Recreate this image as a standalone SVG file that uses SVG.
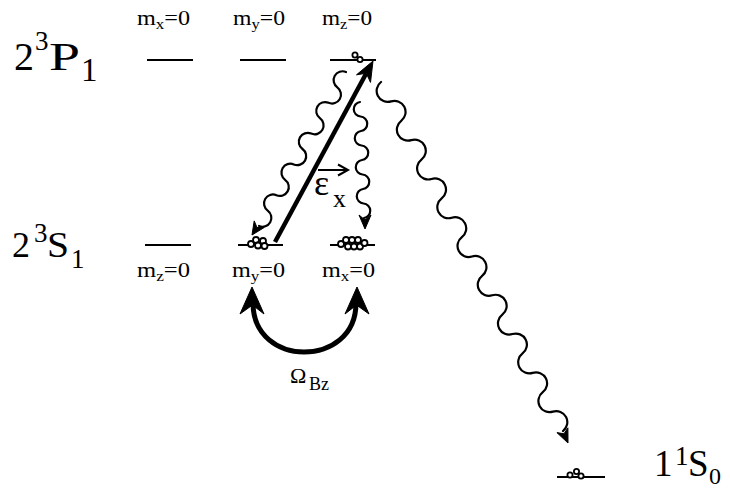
<svg xmlns="http://www.w3.org/2000/svg" width="730" height="490" viewBox="0 0 730 490">
<style>
text{font-family:"Liberation Serif","DejaVu Serif",serif;fill:#000}
.lvl{stroke:#000;stroke-width:2;fill:none}
.dot{stroke:#000;stroke-width:1.8;fill:#fff}
.wave{stroke:#000;stroke-width:2.2;fill:none;stroke-linecap:round}
.head{fill:#000;stroke:#000;stroke-width:1;stroke-linejoin:miter}
.m{font-size:20px}
.ms{font-size:14px}
</style>
<rect width="730" height="490" fill="#fff"/>
<g id="P1-label">
<text x="14" y="70" font-size="40">2</text>
<text x="35" y="50" font-size="27">3</text>
<text x="49" y="70" font-size="40" textLength="31" lengthAdjust="spacingAndGlyphs">P</text>
<text x="81" y="81" font-size="33">1</text>
</g>
<g id="S1-label">
<text x="12" y="257" font-size="36">2</text>
<text x="34" y="242" font-size="27">3</text>
<text x="47" y="257" font-size="36" textLength="22" lengthAdjust="spacingAndGlyphs">S</text>
<text x="71" y="268" font-size="27">1</text>
</g>
<g id="S0-label">
<text x="654" y="476" font-size="37">1</text>
<text x="675" y="465" font-size="27">1</text>
<text x="688" y="476" font-size="37">S</text>
<text x="709" y="484" font-size="24">0</text>
</g>
<g id="P1-mx">
<line class="lvl" x1="147" y1="60" x2="193" y2="60"/>
<text class="m" x="137" y="25" textLength="53" lengthAdjust="spacingAndGlyphs">m<tspan class="ms" dy="4">x</tspan><tspan dy="-4">=0</tspan></text>
</g>
<g id="P1-my">
<line class="lvl" x1="240" y1="60" x2="286" y2="60"/>
<text class="m" x="233" y="25" textLength="52" lengthAdjust="spacingAndGlyphs">m<tspan class="ms" dy="4">y</tspan><tspan dy="-4">=0</tspan></text>
</g>
<g id="P1-mz">
<line class="lvl" x1="330" y1="60" x2="376" y2="60"/>
<text class="m" x="322" y="25" textLength="50" lengthAdjust="spacingAndGlyphs">m<tspan class="ms" dy="4">z</tspan><tspan dy="-4">=0</tspan></text>
<circle class="dot" cx="355" cy="55" r="2.6"/>
<circle class="dot" cx="360" cy="59.5" r="2.6"/>
</g>
<g id="S1-mz">
<line class="lvl" x1="145" y1="245" x2="191" y2="245"/>
<text class="m" x="137" y="277" textLength="53" lengthAdjust="spacingAndGlyphs">m<tspan class="ms" dy="4">z</tspan><tspan dy="-4">=0</tspan></text>
</g>
<g id="S1-my">
<line class="lvl" x1="238" y1="245" x2="283" y2="245"/>
<text class="m" x="232" y="277" textLength="53" lengthAdjust="spacingAndGlyphs">m<tspan class="ms" dy="4">y</tspan><tspan dy="-4">=0</tspan></text>
<circle class="dot" cx="251" cy="244" r="3"/>
<circle class="dot" cx="256" cy="240" r="3"/>
<circle class="dot" cx="258" cy="245.5" r="3"/>
<circle class="dot" cx="263" cy="241" r="3"/>
<circle class="dot" cx="264.5" cy="246" r="3"/>
</g>
<g id="S1-mx">
<line class="lvl" x1="330" y1="245" x2="375" y2="245"/>
<text class="m" x="322" y="277" textLength="53" lengthAdjust="spacingAndGlyphs">m<tspan class="ms" dy="4">x</tspan><tspan dy="-4">=0</tspan></text>
<circle class="dot" cx="341" cy="244" r="3"/>
<circle class="dot" cx="346" cy="240" r="3"/>
<circle class="dot" cx="348" cy="246.5" r="3"/>
<circle class="dot" cx="352" cy="240" r="3"/>
<circle class="dot" cx="354" cy="246.5" r="3"/>
<circle class="dot" cx="358" cy="240" r="3"/>
<circle class="dot" cx="360" cy="246.5" r="3"/>
<circle class="dot" cx="364.5" cy="243" r="3"/>
</g>
<g id="S0-level">
<line class="lvl" x1="557" y1="477" x2="605" y2="477"/>
<circle class="dot" cx="570" cy="475" r="2.6"/>
<circle class="dot" cx="576.5" cy="471.5" r="2.6"/>
<circle class="dot" cx="581" cy="476" r="2.6"/>
</g>
<g id="connectors">
<line x1="275" y1="242" x2="366.3" y2="73.3" stroke="#000" stroke-width="4.5"/>
<path class="head" d="M373,61 L370.5,82.4 L366.3,73.3 L356.5,74.8 Z"/>
<path class="wave" d="M346,72 a8.9,8.9 0 0 0 -8.7,15.4 a8.9,8.9 0 0 1 -8.7,15.4 a8.9,8.9 0 0 0 -8.7,15.4 a8.9,8.9 0 0 1 -8.7,15.4 a8.9,8.9 0 0 0 -8.7,15.4 a8.9,8.9 0 0 1 -8.7,15.4 a8.9,8.9 0 0 0 -8.7,15.4 a8.9,8.9 0 0 1 -8.7,15.4 a8.9,8.9 0 0 0 -8.7,15.4 a8.9,8.9 0 0 1 -8.7,15.4"/>
<path class="head" d="M252,235 L254.2,220.9 L257,227.5 L264.2,227.5 Z"/>
<path class="wave" d="M360,102 a7.3,7.3 0 0 0 0.5,14.5 a7.3,7.3 0 0 1 0.5,14.5 a7.3,7.3 0 0 0 0.5,14.5 a7.3,7.3 0 0 1 0.5,14.5 a7.3,7.3 0 0 0 0.5,14.5 a7.3,7.3 0 0 1 0.5,14.5 a7.3,7.3 0 0 0 0.5,14.5 a7.3,7.3 0 0 1 0.5,14.5"/>
<path class="head" d="M365,229 L359,215 L365,220 L371,215 Z"/>
<path class="wave" d="M381,82 a11.1,11.1 0 0 0 10.11,19.39 a11.1,11.1 0 0 1 10.11,19.39 a11.1,11.1 0 0 0 10.11,19.39 a11.1,11.1 0 0 1 10.11,19.39 a11.1,11.1 0 0 0 10.11,19.39 a11.1,11.1 0 0 1 10.11,19.39 a11.1,11.1 0 0 0 10.11,19.39 a11.1,11.1 0 0 1 10.11,19.39 a11.1,11.1 0 0 0 10.11,19.39 a11.1,11.1 0 0 1 10.11,19.39 a11.1,11.1 0 0 0 10.11,19.39 a11.1,11.1 0 0 1 10.11,19.39 a11.1,11.1 0 0 0 10.11,19.39 a11.1,11.1 0 0 1 10.11,19.39 a11.1,11.1 0 0 0 10.11,19.39 a11.1,11.1 0 0 1 10.11,19.39 a11.1,11.1 0 0 0 10.11,19.39 a11.1,11.1 0 0 1 10.11,19.39"/>
<path class="head" d="M568,443 L556.9,432.6 L564,433.8 L567.9,427.8 Z"/>
<line x1="318" y1="170" x2="347" y2="170" stroke="#000" stroke-width="2"/>
<path d="M338,164.5 L348,170 L338,175.5" fill="none" stroke="#000" stroke-width="2"/>
<path d="M253,303 C253,336 279,352 304,352 C330,352 356,336 356,303" fill="none" stroke="#000" stroke-width="5"/>
<path class="head" d="M252,287 L264,314 L252.5,305 L240,314 Z"/>
<path class="head" d="M357,287 L369,314 L356.5,305 L345,314 Z"/>
</g>
<g id="labels">
<text x="314" y="195" font-size="36">ε</text>
<text x="333" y="207" font-size="26">x</text>
<text x="290" y="383" font-size="22">Ω</text>
<text x="309" y="390" font-size="18">Bz</text>
</g>
</svg>
